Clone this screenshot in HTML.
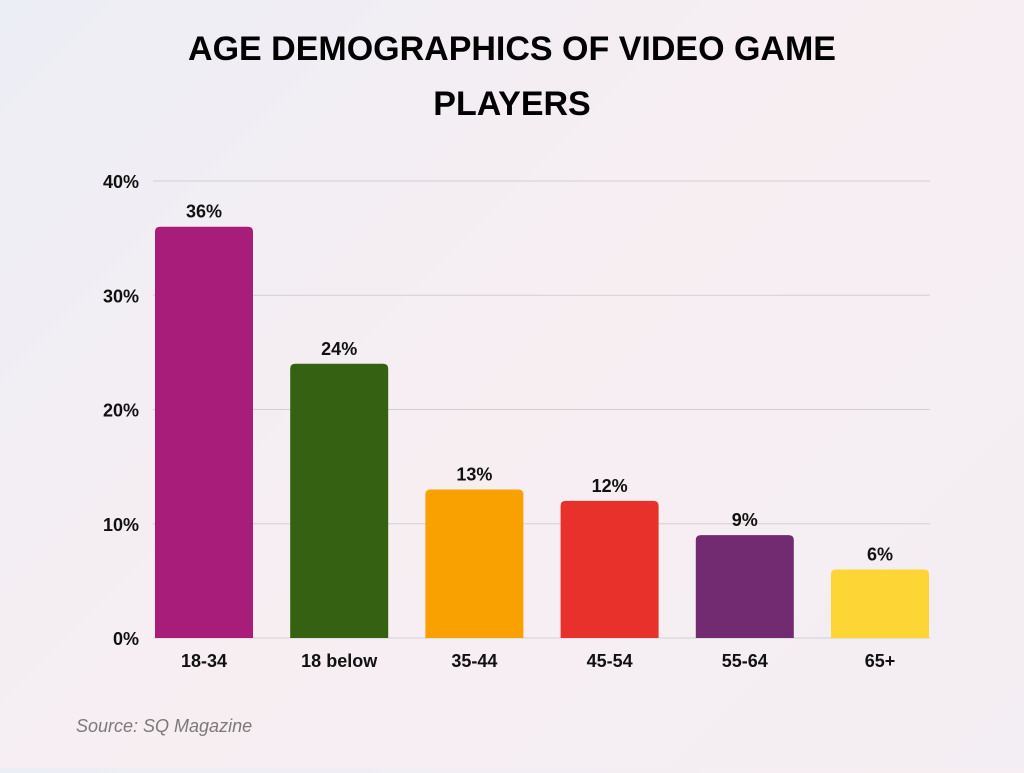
<!DOCTYPE html>
<html><head><meta charset="utf-8"><style>
body{margin:0;width:1024px;height:768px;overflow:hidden;background:linear-gradient(135deg,#eceef5 0%,#f7eef2 50%,#f3eef3 100%);font-family:"Liberation Sans",sans-serif;}
</style></head><body>
<svg width="1024" height="768">
<text x="512" y="60" text-anchor="middle" font-size="34" font-weight="900" fill="#000">AGE DEMOGRAPHICS OF VIDEO GAME</text>
<text x="512" y="115" text-anchor="middle" font-size="34" font-weight="900" fill="#000">PLAYERS</text>
<g id="grid"></g><g id="bars"></g>
<text x="76" y="732" font-size="18" font-style="italic" fill="#7a7a7a">Source: SQ Magazine</text>
</svg>
<script>
const categories=["18-34","18 below","35-44","45-54","55-64","65+"];
const values=[36,24,13,12,9,6];
const colors=["#a81c7a","#356212","#f9a100","#e8312a","#722a70","#fdd535"];
const ticks=[0,10,20,30,40];
const NS="http://www.w3.org/2000/svg";
const y0=638,yTop=181,maxV=40;
const y=v=>y0-(y0-yTop)*v/maxV;
const x=i=>204+i*135.2;
const bw=98;
function mk(t,a,p){const e=document.createElementNS(NS,t);for(const k in a)e.setAttribute(k,a[k]);p.appendChild(e);return e;}
const g=document.getElementById('grid'),b=document.getElementById('bars');
ticks.forEach(t=>{
 const l=mk('line',{x1:153,x2:930,y1:y(t),y2:y(t),stroke:'#d0d0d4','stroke-width':1},g);
 
 
 const tx=mk('text',{x:139,y:y(t)+7,'text-anchor':'end','font-size':18,'font-weight':'bold',fill:'#111'},g);
 tx.textContent=t+'%';
 
 
});
values.forEach((v,i)=>{
 const h=y0-y(v),r=5,X=x(i)-bw/2,Y=y(v);
 const p=mk('path',{d:`M${X},${y0}V${Y+r}Q${X},${Y} ${X+r},${Y}H${X+bw-r}Q${X+bw},${Y} ${X+bw},${Y+r}V${y0}Z`,fill:colors[i]},b);
 
 
 const vl=mk('text',{x:x(i),y:Y-9,'text-anchor':'middle','font-size':18,'font-weight':'bold',fill:'#111'},b);
 vl.textContent=v+'%';
 
 
 const cl=mk('text',{x:x(i),y:667,'text-anchor':'middle','font-size':18,'font-weight':'bold',fill:'#111'},b);
 cl.textContent=categories[i];
 
 
});
</script>
</body></html>
